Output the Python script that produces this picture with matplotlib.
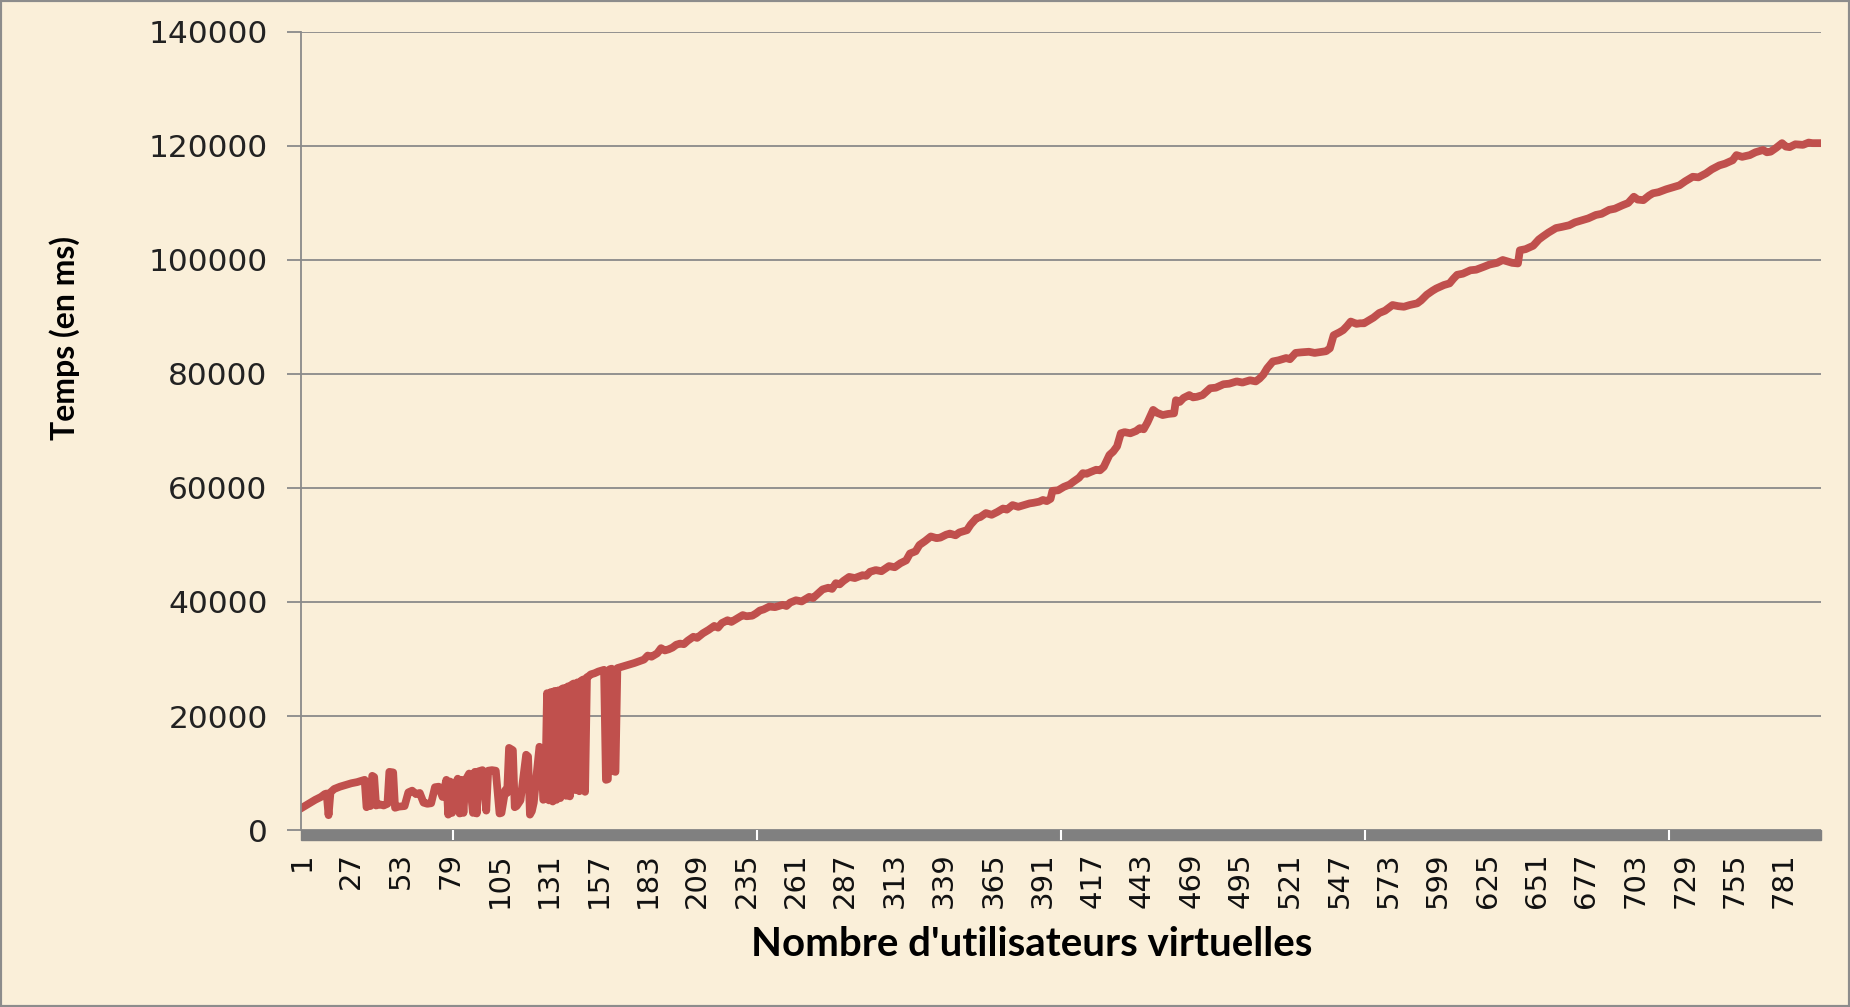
import matplotlib.pyplot as plt
from matplotlib.patches import Rectangle

# response time in ms per virtual user
# first part: the noisy start (users 1-176)
users_start = [1, 3, 5, 8, 11, 13, 14, 15, 16, 18, 21, 24, 27, 30, 33, 34, 35, 36, 37, 38,
               39, 40, 42, 44, 46, 47, 49, 50, 52, 55, 57, 59, 61, 63, 65, 67, 69, 71, 73, 75,
               77, 78, 79, 80, 81, 83, 84, 85, 86, 87, 89, 91, 92, 93, 94, 96, 98, 99, 101, 103,
               105, 106, 108, 109, 110, 111, 112, 113, 114, 116, 119, 120, 121, 122, 123, 126, 127, 128, 129, 130,
               131, 132, 133, 134, 135, 136, 137, 138, 139, 140, 141, 142, 143, 144, 145, 146, 147, 148, 149, 150,
               151, 152, 153, 155, 157, 159, 160, 161, 162, 163, 164, 165, 166, 167, 169, 172, 176]
temps_start = [3900, 4300, 4700, 5300, 5800, 6300, 6400, 2600, 6600, 7200, 7600, 7900, 8200, 8400, 8700, 8800, 4000, 4300, 4200, 9500,
               9300, 4300, 4500, 4300, 4600, 10200, 10100, 3900, 4100, 4200, 6600, 6900, 6300, 6500, 4800, 4600, 4700, 7500, 7600, 5800,
               8800, 2700, 8500, 3000, 7400, 9000, 2900, 8800, 3000, 8700, 9900, 3000, 10200, 2900, 10300, 10500, 3400, 10400, 10500, 10400,
               2900, 3000, 7000, 6500, 14400, 14200, 14000, 4000, 4200, 5200, 13200, 12900, 2700, 3300, 4800, 14600, 14300, 5300, 5600, 24000,
               5200, 24200, 5000, 24400, 5300, 24500, 5600, 24800, 24900, 6000, 25200, 5900, 25500, 25700, 7000, 25900, 6800, 26200, 26400, 6700,
               26800, 27000, 27300, 27500, 27800, 28000, 28100, 8800, 8900, 28200, 28300, 10300, 10200, 28400, 28600, 28900, 29300]

# second part: the steady climb (users 181-800)
users_climb = [181, 183, 185, 188, 190, 192, 194, 196, 198, 200, 202, 204, 207, 209, 212, 215, 218, 220, 222, 225,
               227, 230, 233, 235, 238, 240, 242, 244, 247, 250, 254, 256, 258, 261, 264, 268, 270, 272, 275, 278,
               280, 282, 284, 286, 289, 292, 296, 298, 300, 303, 306, 310, 313, 316, 319, 321, 324, 326, 329, 332,
               335, 337, 340, 342, 345, 347, 349, 351, 353, 356, 358, 361, 364, 367, 370, 372, 375, 378, 381, 384,
               386, 389, 391, 393, 395, 396, 399, 402, 405, 407, 410, 412, 414, 416, 419, 421, 423, 426, 428, 430,
               432, 434, 437, 440, 442, 444, 446, 449, 451, 454, 457, 460, 461, 463, 465, 468, 470, 472, 475, 477,
               479, 482, 486, 489, 493, 496, 500, 503, 505, 507, 509, 512, 515, 519, 521, 524, 527, 531, 534, 538,
               540, 542, 544, 547, 549, 551, 553, 556, 558, 560, 563, 565, 568, 571, 575, 578, 581, 584, 588, 590,
               593, 596, 598, 602, 605, 607, 609, 612, 616, 619, 623, 626, 630, 633, 636, 638, 641, 642, 645, 649,
               652, 654, 657, 661, 664, 668, 671, 675, 678, 682, 685, 689, 692, 696, 699, 702, 704, 707, 710, 712,
               715, 719, 722, 726, 729, 733, 736, 740, 743, 747, 750, 754, 756, 759, 763, 766, 770, 772, 774, 777,
               780, 782, 784, 787, 791, 794, 796, 800]
temps_climb = [29900, 30600, 30400, 31000, 31900, 31500, 31700, 32000, 32500, 32700, 32600, 33200, 33900, 33700, 34500, 35100, 35800, 35500, 36300, 36800,
               36500, 37100, 37700, 37500, 37600, 38000, 38500, 38700, 39200, 39100, 39500, 39300, 39900, 40300, 40100, 40900, 40700, 41300, 42200, 42500,
               42300, 43300, 43100, 43700, 44400, 44200, 44700, 44600, 45300, 45600, 45400, 46300, 46100, 46800, 47300, 48500, 48900, 50000, 50700, 51500,
               51200, 51300, 51800, 52000, 51700, 52200, 52400, 52600, 53600, 54700, 54900, 55600, 55300, 55800, 56400, 56200, 57000, 56700, 57000, 57300,
               57400, 57600, 57900, 57700, 58100, 59500, 59600, 60200, 60600, 61100, 61800, 62600, 62500, 62800, 63200, 63100, 63700, 65800, 66400, 67300,
               69600, 69800, 69600, 70000, 70500, 70300, 71500, 73700, 73200, 72800, 73000, 73100, 75400, 75100, 75800, 76300, 75900, 76000, 76300, 76900,
               77500, 77600, 78200, 78300, 78700, 78500, 78900, 78700, 79200, 79900, 81000, 82200, 82400, 82800, 82600, 83700, 83800, 83900, 83700, 83900,
               84000, 84500, 86800, 87300, 87700, 88400, 89200, 88800, 88900, 88900, 89500, 89900, 90700, 91100, 92100, 91900, 91800, 92100, 92400, 92900,
               93900, 94600, 95000, 95600, 95900, 96700, 97400, 97600, 98200, 98300, 98800, 99200, 99500, 100000, 99700, 99500, 99400, 101700, 101900, 102500,
               103600, 104100, 104800, 105600, 105800, 106100, 106600, 107000, 107300, 107900, 108100, 108800, 109000, 109600, 110000, 111100, 110600, 110500, 111300, 111700,
               111900, 112400, 112700, 113100, 113800, 114600, 114500, 115200, 115900, 116600, 116900, 117500, 118400, 118100, 118400, 118900, 119300, 118900, 119000, 119700,
               120500, 119900, 119800, 120300, 120200, 120600, 120500, 120500]

y_ticks = [0, 20000, 40000, 60000, 80000, 100000, 120000, 140000]
x_labels = list(range(1, 782, 26))
band_ticks = [80.5, 240.5, 400.5, 560.5, 720.5]

bg = '#FAEFD9'
grey = '#8a8a8a'

fig = plt.figure(figsize=(18.5, 10.07), dpi=100, facecolor=bg)
ax = fig.add_axes([301 / 1850, 1 - 830 / 1007, 1520 / 1850, 798 / 1007])
ax.set_facecolor('none')

ax.plot(users_start + users_climb, temps_start + temps_climb, color='#C0504D', lw=5.6)

ax.set_xlim(0.5, 800.5)
ax.set_ylim(0, 140000)
ax.set_yticks(y_ticks)
ax.set_yticklabels([str(v) for v in y_ticks])
ax.set_xticks(x_labels)
ax.set_xticklabels([str(v) for v in x_labels], rotation=90)

ax.yaxis.grid(True, color=grey, lw=1.3)
ax.set_axisbelow(True)
for s in ['top', 'right', 'bottom']:
    ax.spines[s].set_visible(False)
ax.spines['left'].set_color(grey)
ax.spines['left'].set_linewidth(1.3)

ax.tick_params(axis='y', length=10, width=1.3, color=grey, pad=14,
               labelsize=22.5, labelcolor='#222222')
ax.tick_params(axis='x', length=0, pad=16, labelsize=21, labelcolor='#111111')

# thick grey category band under the plot
band_h = 10 / 798
ax.add_patch(Rectangle((0, -band_h), 1, band_h, transform=ax.transAxes,
                       color='#808080', clip_on=False, zorder=3))
ax.vlines(band_ticks, -band_h, 0, transform=ax.get_xaxis_transform(),
          colors='white', lw=1.5, clip_on=False, zorder=4)

fig.text(65 / 1850, 1 - 338 / 1007, 'Temps (en ms)', rotation=90,
         fontweight='bold', fontsize=23, family='Lato', ha='center', va='center')
fig.text(1032 / 1850, 1 - 945 / 1007, "Nombre d'utilisateurs virtuelles",
         fontweight='bold', fontsize=29, family='Lato', ha='center', va='center')

fig.add_artist(Rectangle((0, 0), 1, 1, transform=fig.transFigure, fill=False,
                         edgecolor='#8c8c8c', lw=3))

fig.savefig('out.png', dpi=100, facecolor=fig.get_facecolor())
